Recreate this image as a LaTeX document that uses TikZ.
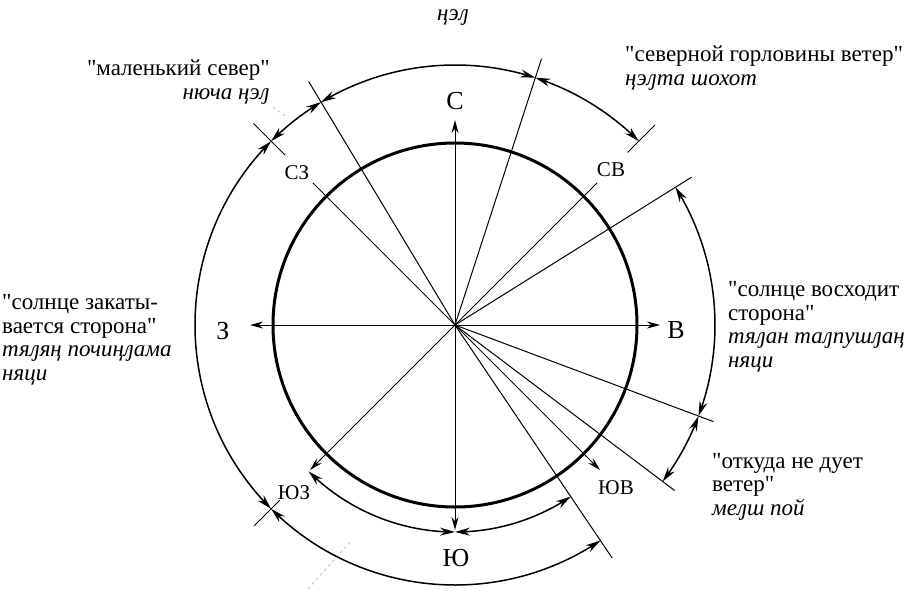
\documentclass[tikz,border=0pt]{standalone}
\usepackage{fontspec}
\setmainfont{Liberation Serif}[Ligatures=TeXOff]
\usetikzlibrary{arrows.meta, bending}
\newcommand{\bigsize}{\fontsize{26}{28}\selectfont}
\newcommand{\midsize}{\fontsize{21}{23}\selectfont}
\newcommand{\txtsize}{\fontsize{23}{23.5}\selectfont}

\begin{document}
\begin{tikzpicture}[x=1pt, y=1pt,
  dir/.style={-{Stealth[length=13pt,width=7pt]}, line width=1pt},
  ray/.style={line width=1pt},
  span/.style={{Stealth[length=15pt,width=8pt]}-{Stealth[length=15pt,width=8pt]}, line width=1.5pt},
  word/.style={font=\txtsize, inner sep=0pt}]
  \useasboundingbox (-455,-265) rectangle (462,325);
  \clip (-455,-265) rectangle (462,325);

  % Horizon circle
  \coordinate (O) at (0,0);
  \draw[line width=3pt] (O) circle[radius=182];

  % Cardinal directions
  \coordinate (N) at (90:205);
  \coordinate (E) at (0:205);
  \coordinate (W) at (180:205);
  \coordinate (S) at (270:205);
  \draw[dir] (O) -- (N);
  \draw[dir] (O) -- (E);
  \draw[dir] (O) -- (W);
  \draw[dir] (O) -- (S);
  \node[font=\bigsize] (lN) at (0,224) {С};
  \node[font=\bigsize] (lE) at (221,-5) {В};
  \node[font=\bigsize] (lW) at (-232,-6) {З};
  \node[font=\bigsize] (lS) at (1,-233) {Ю};

  % Intermediate directions
  \coordinate (NW) at (135:201);
  \coordinate (NE) at (45:201);
  \coordinate (SW) at (225:205);
  \coordinate (SE) at (315:205);
  \draw[ray] (O) -- (NW);
  \draw[ray] (O) -- (NE);
  \draw[dir] (O) -- (SW);
  \draw[dir] (O) -- (SE);
  \node[font=\midsize] (lNW) at (-158,152) {СЗ};
  \node[font=\midsize] (lNE) at (156,155) {СВ};
  \node[font=\midsize] (lSW) at (-161,-168) {ЮЗ};
  \node[font=\midsize] (lSE) at (161,-163) {ЮВ};

  % Sector borders
  \coordinate (b121) at (121:284);
  \coordinate (b72) at (72:280);
  \coordinate (b32) at (32:279);
  \coordinate (b340) at (-20.5:276);
  \coordinate (b323) at (-37:275);
  \coordinate (b304) at (-56:281);
  \draw[ray] (O) -- (b121);
  \draw[ray] (O) -- (b72);
  \draw[ray] (O) -- (b32);
  \draw[ray] (O) -- (b340);
  \draw[ray] (O) -- (b323);
  \draw[ray] (O) -- (b304);

  % Ticks on the outer arc
  \coordinate (t135a) at (135:240);
  \coordinate (t135b) at (135:285);
  \coordinate (t45a) at (45:244);
  \coordinate (t45b) at (45:283);
  \coordinate (t225a) at (225:248);
  \coordinate (t225b) at (225:284);
  \draw[ray] (t135a) -- (t135b);
  \draw[ray] (t45a) -- (t45b);
  \draw[ray] (t225a) -- (t225b);

  % Faint leaders
  \coordinate (f1a) at (-182,218);
  \coordinate (f1b) at (-167,207);
  \coordinate (f2a) at (-105,-217);
  \coordinate (f2b) at (-148,-265);
  \draw[gray!60, dashed, line width=0.6pt] (f1a) -- (f1b);
  \draw[gray!60, dashed, line width=0.6pt] (f2a) -- (f2b);

  % Outer arcs
  \coordinate (a45) at (45:260);
  \coordinate (a72) at (72:260);
  \coordinate (a121) at (121:260);
  \coordinate (a135) at (135:260);
  \coordinate (a225) at (225:260);
  \coordinate (a323) at (-37:260);
  \coordinate (a340) at (-20.5:260);
  \draw[span] (a45) arc[start angle=45, end angle=72, radius=260];
  \draw[span] (a72) arc[start angle=72, end angle=121, radius=260];
  \draw[span] (a121) arc[start angle=121, end angle=135, radius=260];
  \draw[span] (a135) arc[start angle=135, end angle=225, radius=260];
  \draw[span] (a225) arc[start angle=225, end angle=304, radius=260];
  \draw[span] (a323) arc[start angle=-37, end angle=-20.5, radius=260];
  \draw[span] (a340) arc[start angle=-20.5, end angle=32, radius=260];

  % Inner arcs
  \coordinate (m225) at (225:207);
  \coordinate (m270) at (270:207);
  \draw[span] (m225) arc[start angle=225, end angle=270, radius=207];
  \draw[span] (m270) arc[start angle=270, end angle=304, radius=207];

  % Labels
  \node[word, anchor=base] (top) at (-2,305) {\itshape ңэԓ};
  \node[word, anchor=base east, align=right] (small) at (-185,226)
    {"маленький север"\\ \textit{нюча ңэԓ}};
  \node[word, anchor=base west, align=left] (gorlo) at (170,240)
    {"северной горловины ветер"\\ \textit{ңэԓта шохот}};
  \node[word, anchor=base west, align=left] (sunset) at (-453,-55)
    {"солнце закаты-\\ вается сторона"\\ \textit{тяԓяң почиңԓама}\\ \textit{няци}};
  \node[word, anchor=base west, align=left] (sunrise) at (273,-42)
    {"солнце восходит\\ сторона"\\ \textit{тяԓан таԓпушԓаң}\\ \textit{няци}};
  \node[word, anchor=base west, align=left] (nowind) at (257,-190)
    {"откуда не дует\\ ветер"\\ \textit{меԓш пой}};
\end{tikzpicture}
\end{document}
